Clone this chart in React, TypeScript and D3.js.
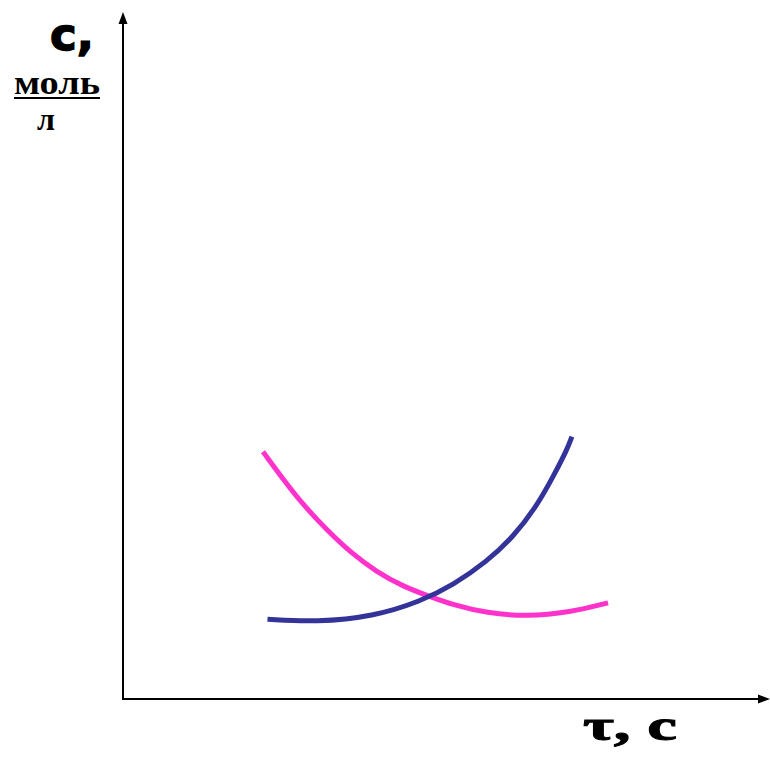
import React from 'react';
import * as d3 from 'd3';

// time axis values (conventional units) and concentrations
const timePink = [21.7, 24.9, 28.0, 31.6, 35.2, 39.3, 43.5, 47.6, 51.2, 56.4, 62.6, 69.3, 75.2];
const concPink = [36.0, 31.9, 28.2, 24.6, 21.4, 18.5, 16.35, 14.9, 13.7, 12.5, 12.0, 12.6, 14.0];
const timeBlue = [22.4, 30.0, 38.8, 46.1, 51.2, 56.4, 60.5, 64.1, 66.7, 68.8, 69.6];
const concBlue = [11.6, 11.2, 12.0, 14.2, 16.6, 20.0, 23.6, 28.0, 32.4, 36.2, 38.2];

const yLabel = ['с,', 'моль', 'л'];
const xLabel = 'τ, с';

const W = 770;
const H = 762;

export default function App() {
  const x = d3.scaleLinear().domain([0, 100]).range([123, 768]);
  const y = d3.scaleLinear().domain([0, 100]).range([699, 12]);

  const line = d3.line<[number, number]>()
    .x(d => x(d[0]))
    .y(d => y(d[1]))
    .curve(d3.curveBasis);

  const pink = timePink.map((t, i) => [t, concPink[i]] as [number, number]);
  const blue = timeBlue.map((t, i) => [t, concBlue[i]] as [number, number]);

  const x0 = x(0);
  const y0 = y(0);

  return (
    <svg width={W} height={H} style={{ position: 'absolute', left: 0, top: 0, background: '#fff' }}>
      {/* оси */}
      <line x1={x0} y1={y0} x2={x(100) - 4} y2={y0} stroke="#000" strokeWidth={2} />
      <path d={`M${W} ${y0} L${W - 12} ${y0 - 4.5} L${W - 12} ${y0 + 4.5} Z`} fill="#000" />
      <line x1={x0} y1={y0 + 1} x2={x0} y2={y(100) + 6} stroke="#000" strokeWidth={2} />
      <path d={`M${x0} ${y(100)} L${x0 - 4.5} ${y(100) + 12} L${x0 + 4.5} ${y(100) + 12} Z`} fill="#000" />

      {/* кривые */}
      <path d={line(pink) || ''} fill="none" stroke="#ff33cc" strokeWidth={5} />
      <path d={line(blue) || ''} fill="none" stroke="#333399" strokeWidth={5} />

      {/* подписи */}
      <text x={50} y={50} fontFamily="DejaVu Sans" fontWeight={900} fontSize={45}
        stroke="#000" strokeWidth={1.5}>{yLabel[0]}</text>
      <text x={14} y={94} fontFamily="Liberation Serif" fontWeight="bold" fontSize={33}
        textLength={86} lengthAdjust="spacingAndGlyphs">{yLabel[1]}</text>
      <line x1={14} y1={98} x2={100} y2={98} stroke="#000" strokeWidth={2} />
      <text x={37} y={130} fontFamily="Liberation Serif" fontWeight="bold" fontSize={32}>{yLabel[2]}</text>
      <text x={583} y={740} fontFamily="Liberation Serif" fontWeight="bold" fontSize={44}
        stroke="#000" strokeWidth={1} textLength={94} lengthAdjust="spacingAndGlyphs">{xLabel}</text>
    </svg>
  );
}
